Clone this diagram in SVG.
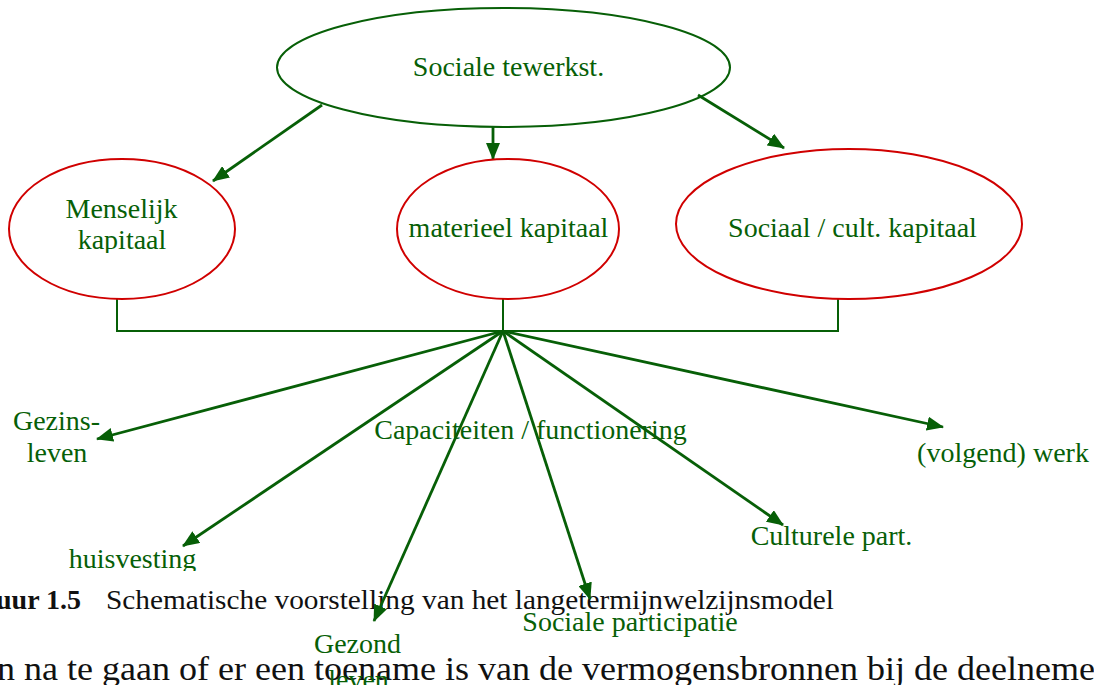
<svg xmlns="http://www.w3.org/2000/svg" width="1094" height="685" viewBox="0 0 1094 685">
<style>
.lbl{font-family:"Liberation Serif","Times New Roman",serif;font-size:28px;fill:#075f07;text-anchor:middle}
.blk{font-family:"Liberation Serif","Times New Roman",serif;fill:#111}
.green{fill:none;stroke:#075f07;stroke-width:2}
.red{fill:none;stroke:#d00000;stroke-width:2}
.arr{fill:none;stroke:#075f07;stroke-width:2.8;marker-end:url(#ah)}
</style>
<defs>
<marker id="ah" markerUnits="userSpaceOnUse" markerWidth="17" markerHeight="14" refX="16" refY="7" orient="auto">
<path d="M0,0 L17,7 L0,14 z" fill="#075f07"/>
</marker>
<clipPath id="clipKap"><rect x="0" y="0" width="400" height="253"/></clipPath>
<clipPath id="clipHuis"><rect x="0" y="500" width="400" height="71"/></clipPath>
</defs>
<rect width="1094" height="685" fill="#fff"/>

<g id="page-text">
<text class="blk" x="-4" y="609" font-size="28" font-weight="bold">uur 1.5</text>
<text class="blk" x="106" y="609" font-size="28" textLength="728" lengthAdjust="spacingAndGlyphs">Schematische voorstelling van het langetermijnwelzijnsmodel</text>
<text class="blk" x="-3" y="680" font-size="34" textLength="1098" lengthAdjust="spacingAndGlyphs">n na te gaan of er een toename is van de vermogensbronnen bij de deelneme</text>
</g>

<g id="connectors">
<path class="green" d="M117,299 V331 H838 V299 M503,299 V331"/>
<line class="arr" x1="322" y1="105" x2="213" y2="181"/>
<line class="arr" x1="493" y1="127" x2="493" y2="159"/>
<line class="arr" x1="698" y1="95" x2="784" y2="148"/>
<line class="arr" x1="503" y1="331" x2="97" y2="439"/>
<line class="arr" x1="503" y1="331" x2="183" y2="546"/>
<line class="arr" x1="503" y1="331" x2="374" y2="621"/>
<line class="arr" x1="503" y1="331" x2="590" y2="599"/>
<line class="arr" x1="503" y1="331" x2="783" y2="525"/>
<line class="arr" x1="503" y1="331" x2="943" y2="427"/>
</g>

<g id="node-sociale-tewerkst">
<ellipse class="green" cx="503.5" cy="67.5" rx="226.5" ry="59.5"/>
<text class="lbl" x="508.5" y="76">Sociale tewerkst.</text>
</g>
<g id="node-menselijk">
<ellipse class="red" cx="122" cy="229" rx="113" ry="70"/>
<text class="lbl" x="121.5" y="218">Menselijk</text>
<text class="lbl" x="122" y="249" clip-path="url(#clipKap)">kapitaal</text>
</g>
<g id="node-materieel">
<ellipse class="red" cx="508" cy="229" rx="111" ry="70"/>
<text class="lbl" x="508.5" y="237">materieel kapitaal</text>
</g>
<g id="node-sociaal">
<ellipse class="red" cx="849" cy="224" rx="173" ry="75"/>
<text class="lbl" x="852.5" y="237">Sociaal / cult. kapitaal</text>
</g>
<g id="label-capaciteiten">
<text class="lbl" x="530.5" y="439">Capaciteiten / functionering</text>
</g>
<g id="node-gezinsleven">
<text class="lbl" x="56.5" y="430">Gezins-</text>
<text class="lbl" x="57" y="462">leven</text>
</g>
<g id="node-huisvesting">
<text class="lbl" x="132.5" y="568" clip-path="url(#clipHuis)">huisvesting</text>
</g>
<g id="node-gezond">
<text class="lbl" x="357.5" y="653">Gezond</text>
<text class="lbl" x="358.5" y="689">leven</text>
</g>
<g id="node-sociale-participatie">
<text class="lbl" x="630" y="631">Sociale participatie</text>
</g>
<g id="node-culturele">
<text class="lbl" x="831.5" y="545">Culturele part.</text>
</g>
<g id="node-werk">
<text class="lbl" x="1003" y="462">(volgend) werk</text>
</g>
</svg>
